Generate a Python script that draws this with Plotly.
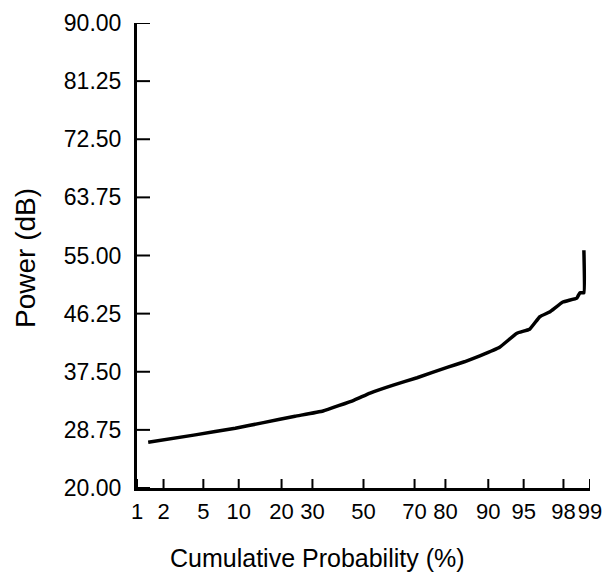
import plotly.graph_objects as go
from statistics import NormalDist

# Data
prob_pct = [1.35, 4.2, 9.4, 14.9, 24.1, 33.9, 46.0, 52.7, 62.0, 70.9, 80.7, 85.0, 88.4,
            91.9, 94.25, 95.6, 96.5, 97.2, 97.97, 98.58, 98.69, 98.82, 98.82]
power_db = [26.9, 28.0, 29.0, 29.8, 30.8, 31.6, 33.2, 34.3, 35.5, 36.6, 38.2, 39.0, 39.9,
            41.2, 43.3, 43.9, 45.8, 46.5, 48.0, 48.6, 49.4, 49.4, 55.8]

x_tick_pct = [1, 2, 5, 10, 20, 30, 50, 70, 80, 90, 95, 98, 99]
x_tick_text = ["1", "2", "5", "10", "20", "30", "50", "70", "80", "90", "95", "98", "99"]
y_ticks = [20.00, 28.75, 37.50, 46.25, 55.00, 63.75, 72.50, 81.25, 90.00]

nd = NormalDist()
def z(p):
    return nd.inv_cdf(p / 100.0)

FONT = "Liberation Sans, Arial, Helvetica, sans-serif"
PLOT_W, PLOT_H = 453, 465
X0, X1 = z(1), z(99)
Y0, Y1 = 20, 90

fig = go.Figure()
fig.add_trace(go.Scatter(
    x=[z(p) for p in prob_pct], y=power_db, mode="lines",
    line=dict(color="black", width=3.5, shape="spline", smoothing=0.3),
    showlegend=False, hoverinfo="skip"))

# inside tick marks drawn as line segments at the tick values
xt_len = 9 / PLOT_H * (Y1 - Y0)
yt_len = 13 / PLOT_W * (X1 - X0)
tx, ty = [], []
for p in x_tick_pct:
    tx += [z(p), z(p), None]
    ty += [Y0, Y0 + xt_len, None]
for v in y_ticks:
    tx += [X0, X0 + yt_len, None]
    ty += [v, v, None]
fig.add_trace(go.Scatter(
    x=tx, y=ty, mode="lines", line=dict(color="black", width=2),
    showlegend=False, hoverinfo="skip", cliponaxis=False))

fig.update_layout(
    width=609, height=574,
    margin=dict(l=137, r=19, t=23, b=86),
    paper_bgcolor="white", plot_bgcolor="white",
    font=dict(family=FONT, color="black", size=22),
    xaxis=dict(
        range=[X0, X1],
        tickmode="array", tickvals=[z(p) for p in x_tick_pct], ticktext=x_tick_text,
        ticks="", showline=True, linewidth=3, linecolor="black",
        showgrid=False, zeroline=False, automargin=False,
        tickangle=0, ticklabelstandoff=2,
        tickfont=dict(size=22, family=FONT),
    ),
    yaxis=dict(
        range=[Y0, Y1],
        tickmode="array", tickvals=y_ticks, ticktext=[f"{v:.2f}" for v in y_ticks],
        ticks="", showline=True, linewidth=3, linecolor="black",
        showgrid=False, zeroline=False, automargin=False,
        ticklabelstandoff=8,
        tickfont=dict(size=23, family=FONT),
    ),
    annotations=[
        dict(text="Cumulative Probability (%)", xref="paper", yref="paper",
             x=(317 - 137) / 453, y=(488 - 558) / 465, xanchor="center", yanchor="middle",
             showarrow=False, font=dict(size=25, family=FONT)),
        dict(text="Power (dB)", xref="paper", yref="paper",
             x=(25 - 137) / 453, y=(488 - 258) / 465, xanchor="center", yanchor="middle",
             textangle=-90, showarrow=False, font=dict(size=28, family=FONT)),
    ],
)

fig.write_html("out.html")
